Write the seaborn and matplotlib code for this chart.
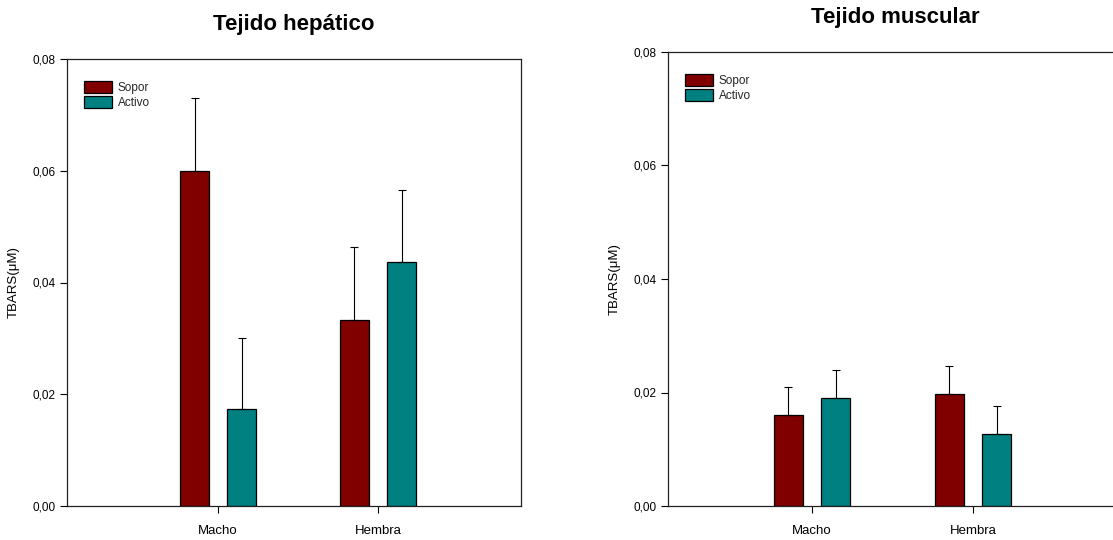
import numpy as np
import pandas as pd
import matplotlib
matplotlib.use('Agg')
import matplotlib.pyplot as plt
import seaborn as sns
from matplotlib.ticker import FuncFormatter

# datos
categorias = ['Macho', 'Hembra']
grupos = ['Sopor', 'Activo']
colores = ['#800000', '#008080']

hepatico_sopor = [0.0600, 0.0333]
hepatico_activo = [0.0174, 0.0437]
hepatico_sopor_err = [0.0130, 0.0131]
hepatico_activo_err = [0.0127, 0.0129]

muscular_sopor = [0.0160, 0.0197]
muscular_activo = [0.0190, 0.0127]
muscular_sopor_err = [0.0050, 0.0050]
muscular_activo_err = [0.0050, 0.0049]

y_ticks = [0.0, 0.02, 0.04, 0.06, 0.08]


def coma(v, pos):
    return f"{v:.2f}".replace('.', ',')


def dibujar_panel(ax, sopor, activo, sopor_err, activo_err, titulo, xlim):
    df = pd.DataFrame({
        'sexo': categorias * 2,
        'estado': [grupos[0]] * 2 + [grupos[1]] * 2,
        'valor': list(sopor) + list(activo),
    })
    sns.barplot(data=df, x='sexo', y='valor', hue='estado', order=categorias,
                hue_order=grupos, palette=colores, errorbar=None,
                width=0.59, gap=0.385, edgecolor='black', linewidth=0.9,
                saturation=1, ax=ax)

    # barras de error (solo hacia arriba)
    for cont, err in zip(ax.containers, [sopor_err, activo_err]):
        xs = [b.get_x() + b.get_width() / 2 for b in cont]
        hs = [b.get_height() for b in cont]
        ax.errorbar(xs, hs, yerr=[np.zeros(len(err)), err], fmt='none',
                    ecolor='black', elinewidth=0.8, capsize=3, capthick=0.8,
                    zorder=1)

    ax.set_xlim(*xlim)
    ax.set_ylim(0, 0.08)
    ax.set_yticks(y_ticks)
    ax.yaxis.set_major_formatter(FuncFormatter(coma))
    ax.set_xlabel('')
    ax.set_ylabel('TBARS(μM)', fontsize=9.5, labelpad=9, color='black')
    ax.set_title(titulo, fontsize=16, fontweight='bold', pad=21, color='black')
    ax.tick_params(axis='both', direction='out', length=5, width=0.8,
                   colors='black')
    ax.tick_params(axis='y', labelsize=8.5)
    ax.tick_params(axis='x', labelsize=9.5, pad=9)
    for s in ax.spines.values():
        s.set_visible(True)
        s.set_linewidth(0.9)
        s.set_color('#222222')

    handles, labels = ax.get_legend_handles_labels()
    ax.legend(handles, labels, loc='upper left', frameon=False, fontsize=8.5,
              handlelength=2.3, handleheight=1.2, labelspacing=0.2,
              handletextpad=0.5, bbox_to_anchor=(0.015, 0.975))


sns.set_style('ticks')
plt.rcParams['font.family'] = ['Liberation Sans', 'DejaVu Sans']

fig = plt.figure(figsize=(11.13, 5.4), dpi=100)
ax1 = fig.add_axes([67 / 1113, 34 / 540, 454 / 1113, 447 / 540])
ax2 = fig.add_axes([668 / 1113, 34 / 540, 454 / 1113, 454 / 540])

dibujar_panel(ax1, hepatico_sopor, hepatico_activo, hepatico_sopor_err,
              hepatico_activo_err, 'Tejido hepático', (-0.946, 1.895))
dibujar_panel(ax2, muscular_sopor, muscular_activo, muscular_sopor_err,
              muscular_activo_err, 'Tejido muscular', (-0.893, 1.924))

fig.savefig('out.png', dpi=100)
